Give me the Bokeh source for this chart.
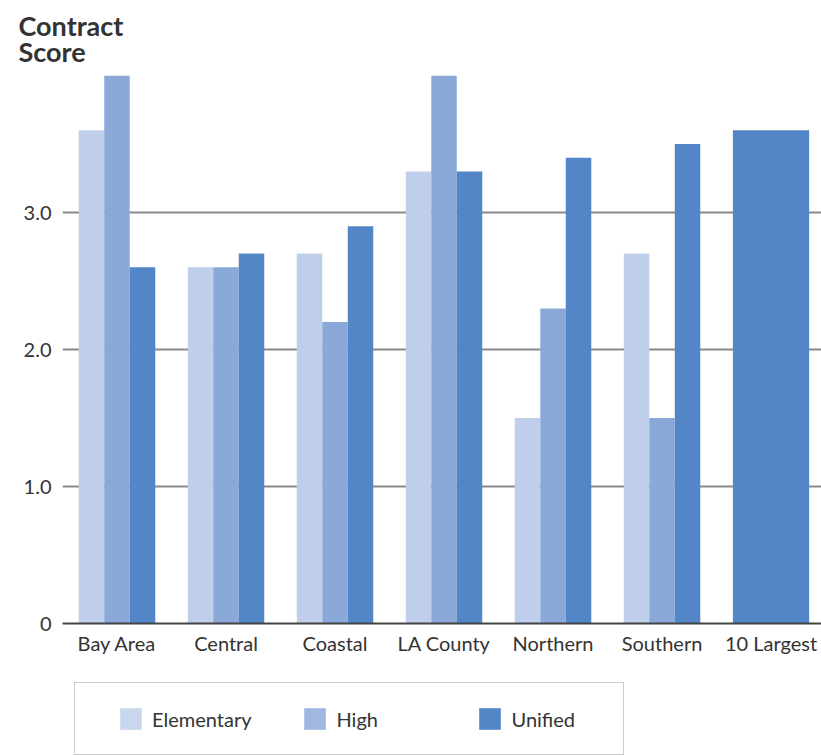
from bokeh.plotting import figure
from bokeh.layouts import column
from bokeh.models import (ColumnDataSource, Range1d, FixedTicker, Legend,
                          LegendItem, Title)
from bokeh.embed import file_html
from bokeh.resources import INLINE

# Average contract score by region and district type
regions = ["Bay Area", "Central", "Coastal", "LA County", "Northern", "Southern", "10 Largest"]
elementary = [3.6, 2.6, 2.7, 3.3, 1.5, 2.7]
high = [4.0, 2.6, 2.2, 4.0, 2.3, 1.5]
unified = [2.6, 2.7, 2.9, 3.3, 3.4, 3.5]
largest_ten = [3.6]
series_names = ["Elementary", "High", "Unified"]

y_ticks = [0, 1, 2, 3]
y_tick_labels = ["0", "1.0", "2.0", "3.0"]

C_ELEM = "#bfcfeb"
C_HIGH = "#8aa9d8"
C_UNI = "#5286c6"
# legend swatches are printed a touch lighter
KEY_COLORS = ["#c8d6ee", "#a0b7e1", "#5286c6"]
FONT = "Lato"
TXT = "#333333"

bar_w = 0.234
idx = list(range(len(elementary)))

p = figure(frame_width=759, frame_height=548, output_backend="svg", toolbar_location=None,
           x_range=Range1d(-0.5, 6.463), y_range=Range1d(0, 4.0),
           min_border_left=62, min_border_right=0, min_border_top=75,
           min_border_bottom=0)
p.outline_line_color = None
p.background_fill_color = "white"
p.border_fill_color = "white"

src = ColumnDataSource(dict(
    x_e=[i - bar_w for i in idx], x_h=idx, x_u=[i + bar_w for i in idx],
    elem=elementary, high=high, uni=unified))

p.vbar(x="x_e", top="elem", width=bar_w, source=src, fill_color=C_ELEM, line_color=None)
p.vbar(x="x_h", top="high", width=bar_w, source=src, fill_color=C_HIGH, line_color=None)
p.vbar(x="x_u", top="uni", width=bar_w, source=src, fill_color=C_UNI, line_color=None)
p.vbar(x=[len(regions) - 1], top=largest_ten, width=0.70, fill_color=C_UNI, line_color=None)

# axes
p.xaxis.ticker = FixedTicker(ticks=list(range(len(regions))))
p.xaxis.major_label_overrides = {i: r for i, r in enumerate(regions)}
p.xaxis.axis_line_color = "#444444"
p.xaxis.axis_line_width = 2
p.xaxis.major_tick_line_color = None
p.xaxis.minor_tick_line_color = None
p.xaxis.major_tick_in = 0
p.xaxis.major_tick_out = 0
p.xaxis.major_label_standoff = 7
p.xaxis.major_label_text_font = FONT
p.xaxis.major_label_text_font_size = "20px"
p.xaxis.major_label_text_color = TXT

p.yaxis.ticker = FixedTicker(ticks=y_ticks)
p.yaxis.major_label_overrides = {t: s for t, s in zip(y_ticks, y_tick_labels)}
p.yaxis.axis_line_color = None
p.yaxis.major_tick_line_color = None
p.yaxis.minor_tick_line_color = None
p.yaxis.major_tick_in = 0
p.yaxis.major_tick_out = 0
p.yaxis.major_label_standoff = 11
p.yaxis.major_label_text_font = FONT
p.yaxis.major_label_text_font_size = "20px"
p.yaxis.major_label_text_color = TXT

p.xgrid.grid_line_color = None
p.ygrid.ticker = FixedTicker(ticks=[1, 2, 3])
p.ygrid.grid_line_color = "#8a8a8a"
p.ygrid.grid_line_width = 2

# axis title in two lines at the top left
p.add_layout(Title(text="Contract\nScore", align="left", offset=-44, standoff=14,
                   text_line_height=0.8,
                   text_font=FONT, text_font_size="27px", text_font_style="bold",
                   text_color=TXT), "above")

# legend strip under the chart (its frame lines up with the chart's frame)
leg = figure(width=821, height=100, output_backend="svg", toolbar_location=None,
             x_range=Range1d(0, 1), y_range=Range1d(0, 1), min_border=0)
leg.outline_line_color = None
leg.axis.visible = False
leg.grid.visible = False
# key renderers sit below the visible range; only their legend swatches show
swatches = [leg.vbar(x=[0.5], bottom=[-3], top=[-2], width=0.1, fill_color=c, line_color=None)
            for c in KEY_COLORS]

legend = Legend(items=[LegendItem(label=n, renderers=[r]) for n, r in zip(series_names, swatches)],
                orientation="horizontal", location=(12, 2),
                title=" ", title_location="left", title_text_font_size="1px",
                title_standoff=19,
                padding=22, spacing=50, margin=0,
                glyph_width=27, glyph_height=27, label_standoff=8, label_width=90,
                label_text_font=FONT, label_text_font_size="20px", label_text_color=TXT,
                border_line_color="#999999", border_line_width=1.5,
                background_fill_color="white", background_fill_alpha=1)
leg.add_layout(legend, "center")

page = column(p, leg, spacing=0)
open("out.html", "w").write(file_html(page, INLINE))
